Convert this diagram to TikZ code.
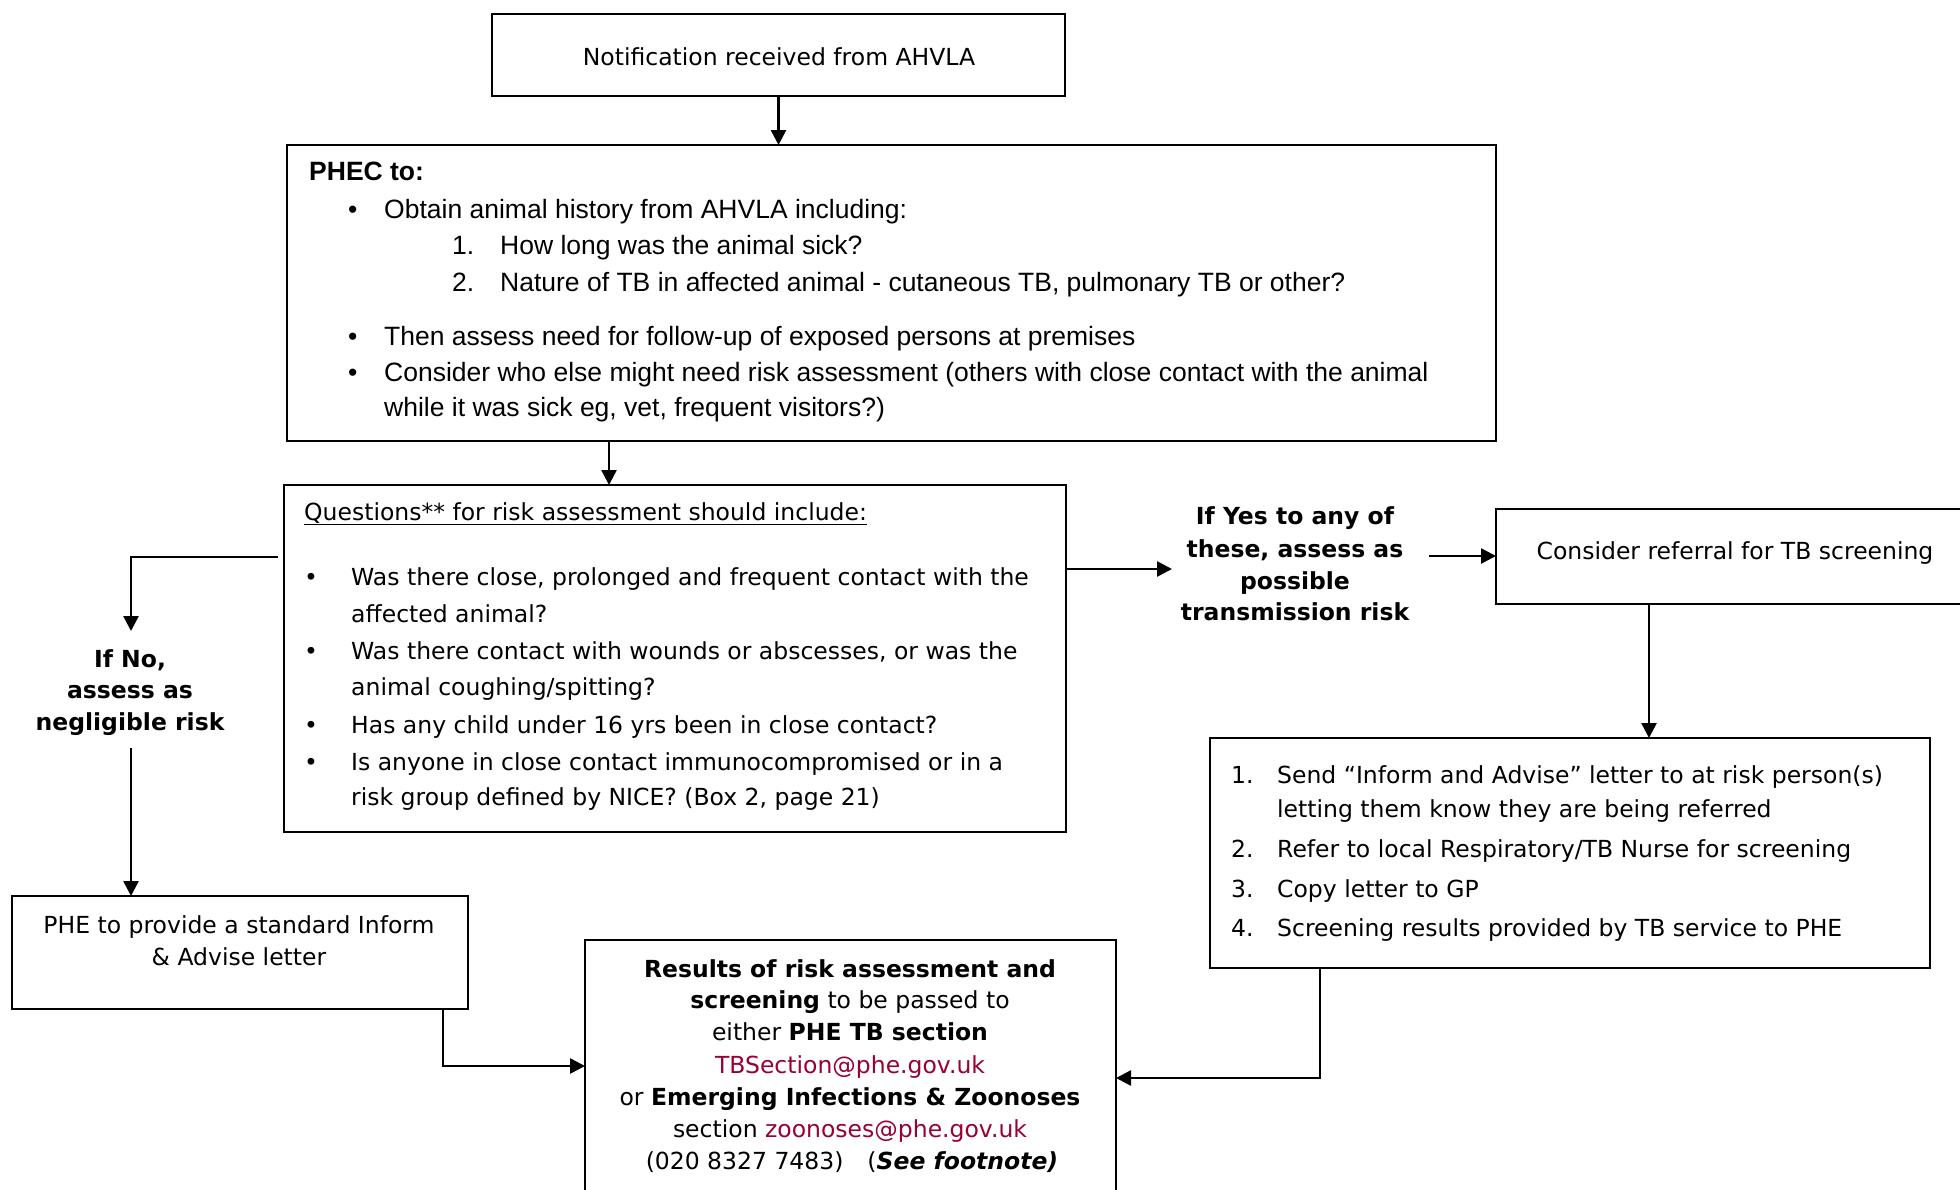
\documentclass[tikz,border=0pt]{standalone}
\usepackage{fontspec}
\setmainfont{DejaVu Sans}
\newfontfamily\arialf{Liberation Sans}
\usetikzlibrary{arrows.meta}
\definecolor{maillink}{RGB}{153,0,51}
\begin{document}
\begin{tikzpicture}[x=1pt,y=-1pt,
  box/.style={draw, line width=2.2pt, inner sep=0pt, outer sep=0pt},
  arr/.style={line width=2.6pt, -{Triangle[length=15pt,width=15pt]}},
  tx/.style={inner sep=0pt, anchor=base west, font=\fontsize{23.5}{28}\selectfont},
  txc/.style={inner sep=0pt, anchor=base, font=\fontsize{23.5}{28}\selectfont},
  txb/.style={inner sep=0pt, anchor=base, font=\fontsize{23.5}{28}\selectfont\bfseries},
  ar/.style={inner sep=0pt, anchor=base west, font=\arialf\fontsize{26.5}{32}\selectfont},
]
\useasboundingbox (0,0) rectangle (1960,1189);

% boxes
\node[box, minimum width=573pt, minimum height=82pt] (b1) at (778.5,55) {};
\node[box, minimum width=1209pt, minimum height=296pt] (b2) at (891.5,293) {};
\node[box, minimum width=782pt, minimum height=347pt] (b3) at (675,658.5) {};
\node[box, minimum width=480pt, minimum height=95pt] (b4) at (1736,556.5) {};
\node[box, minimum width=720pt, minimum height=230pt] (b5) at (1570,853) {};
\node[box, minimum width=531pt, minimum height=270pt] (b6) at (850.5,1075) {};
\node[box, minimum width=456pt, minimum height=113pt] (b7) at (240,952.5) {};

% box 1 text
\node[txc] (t1) at (779,65) {Notification received from AHVLA};

% box 2 text (Arial)
\node[ar, font=\arialf\bfseries\fontsize{26.5}{32}\selectfont] (p0) at (309,180) {PHEC to:};
\node[ar] (p1b) at (348,218) {•};
\node[ar] (p1) at (384,218) {Obtain animal history from AHVLA including:};
\node[ar] (p2n) at (452,254) {1.};
\node[ar] (p2) at (500,254) {How long was the animal sick?};
\node[ar] (p3n) at (452,291) {2.};
\node[ar] (p3) at (500,291) {Nature of TB in affected animal - cutaneous TB, pulmonary TB or other?};
\node[ar] (p4b) at (348,345) {•};
\node[ar] (p4) at (384,345) {Then assess need for follow-up of exposed persons at premises};
\node[ar] (p5b) at (348,381) {•};
\node[ar] (p5) at (384,381) {Consider who else might need risk assessment (others with close contact with the animal};
\node[ar] (p6) at (384,416) {while it was sick eg, vet, frequent visitors?)};

% box 3 text
\node[tx] (q0) at (304,520) {\underline{Questions** for risk assessment should include:}};
\node[tx] (q1b) at (304,585) {•};
\node[tx] (q1) at (351,585) {Was there close, prolonged and frequent contact with the};
\node[tx] (q2) at (351,622) {affected animal?};
\node[tx] (q3b) at (304,659) {•};
\node[tx] (q3) at (351,659) {Was there contact with wounds or abscesses, or was the};
\node[tx] (q4) at (351,695) {animal coughing/spitting?};
\node[tx] (q5b) at (304,733) {•};
\node[tx] (q5) at (351,733) {Has any child under 16 yrs been in close contact?};
\node[tx] (q6b) at (304,770) {•};
\node[tx] (q6) at (351,770) {Is anyone in close contact immunocompromised or in a};
\node[tx] (q7) at (351,805) {risk group defined by NICE? (Box 2, page 21)};

% yes / no labels
\node[txb] (y1) at (1295,524) {If Yes to any of};
\node[txb] (y2) at (1295,557) {these, assess as};
\node[txb] (y3) at (1295,589) {possible};
\node[txb] (y4) at (1295,620) {transmission risk};
\node[txb] (n1) at (130,667) {If No,};
\node[txb] (n2) at (130,698) {assess as};
\node[txb] (n3) at (130,730) {negligible risk};

% box 4 text
\node[txc] (t4) at (1735,559) {Consider referral for TB screening};

% box 5 text
\node[tx] (r1n) at (1231,783) {1.};
\node[tx] (r1) at (1277,783) {Send “Inform and Advise” letter to at risk person(s)};
\node[tx] (r1c) at (1277,817) {letting them know they are being referred};
\node[tx] (r2n) at (1231,857) {2.};
\node[tx] (r2) at (1277,857) {Refer to local Respiratory/TB Nurse for screening};
\node[tx] (r3n) at (1231,897) {3.};
\node[tx] (r3) at (1277,897) {Copy letter to GP};
\node[tx] (r4n) at (1231,936) {4.};
\node[tx] (r4) at (1277,936) {Screening results provided by TB service to PHE};

% box 6 text
\node[txc] (s1) at (850,977) {\textbf{Results of risk assessment and}};
\node[txc] (s2) at (850,1008) {\textbf{screening} to be passed to};
\node[txc] (s3) at (850,1040) {either \textbf{PHE TB section}};
\node[txc] (s4) at (850,1073) {\textcolor{maillink}{TBSection@phe.gov.uk}};
\node[txc] (s5) at (850,1105) {or \textbf{Emerging Infections \& Zoonoses}};
\node[txc] (s6) at (850,1137) {section \textcolor{maillink}{zoonoses@phe.gov.uk}};
\node[txc] (s7) at (852,1169) {(020 8327 7483)\hspace{24pt}(\textbf{\textit{See footnote)}}};

% box 7 text
\node[txc] (u1) at (239,933) {PHE to provide a standard Inform};
\node[txc] (u2) at (239,965) {\& Advise letter};

% helper coordinates
\coordinate (c23) at (609,0);
\coordinate (ya) at (1172,569);
\coordinate (yb) at (1429,556);
\coordinate (c45) at (1649,0);
\coordinate (c56) at (1320,1078);
\coordinate (c76) at (443,1066);
\coordinate (cn) at (131,557);
\coordinate (nt) at (131,631);
\coordinate (nb) at (131,748);

% connectors
\draw[arr] (b1.south) -- (b2.north -| b1.south);
\draw[arr] (b2.south -| c23) -- (b3.north -| c23);
\draw[arr] (b3.east |- ya) -- (ya);
\draw[arr] (yb) -- (b4.west |- yb);
\draw[arr] (b4.south -| c45) -- (b5.north -| c45);
\draw[arr] (b5.south -| c56) -- (c56) -- (b6.east |- c56);
\draw[arr] (b7.south -| c76) -- (c76) -- (b6.west |- c76);
\draw[arr] ([xshift=-6pt]b3.west |- cn) -- (cn) -- (nt);
\draw[arr] (nb) -- (b7.north -| nb);
\end{tikzpicture}
\end{document}
